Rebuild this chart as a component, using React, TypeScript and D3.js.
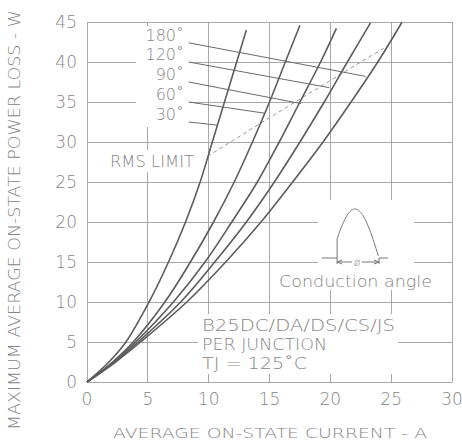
import React from 'react';
import * as d3 from 'd3';

// tick values
const xTicks = [0, 5, 10, 15, 20, 25, 30];
const yTicks = [0, 5, 10, 15, 20, 25, 30, 35, 40, 45];

const powerLevels = [0, 2.5, 5, 10, 15, 20, 25, 30, 35, 40];
const current30 = [0, 1.8, 3.2, 5.1, 6.7, 8.1, 9.3, 10.3, 11.3, 12.3];
const current60 = [0, 2.1, 3.8, 6.4, 8.5, 10.4, 12.1, 13.6, 15.0, 16.3];
const current90 = [0, 2.2, 4.0, 7.1, 9.7, 11.9, 14.0, 15.8, 17.5, 19.2];
const current120 = [0, 2.3, 4.2, 7.7, 10.5, 13.1, 15.4, 17.5, 19.5, 21.4];
const current180 = [0, 2.35, 4.4, 8.2, 11.4, 14.3, 16.9, 19.4, 21.7, 23.9];
const topCurrent = [13.1, 17.5, 20.5, 23.3, 25.9];
const topPower = [44.0, 44.6, 44.2, 44.9, 45.0];

// conduction angle labels and their leader lines (same order as curves)
const angleLabels = ['30˚', '60˚', '90˚', '120˚', '180˚'];
const leaderStartPower = [32.5, 35.0, 37.5, 40.0, 42.4];
const leaderEndCurrent = [10.75, 14.6, 17.6, 19.9, 22.9];
const leaderEndPower = [32.1, 33.6, 34.8, 36.8, 38.2];

// RMS limit (dashed)
const rmsCurrent = [9.9, 17.0, 24.8];
const rmsPower = [28.2, 34.9, 42.1];

const notes = ['B25DC/DA/DS/CS/JS', 'PER JUNCTION', 'TJ = 125˚C'];
const noteWidths = [193, 125, 105];

const W = 462, H = 442;
const FONT = '"DejaVu Sans", sans-serif';
const TEXT = '#858585';
const GRID = '#a8a8a8';
const CURVE = '#5c5c5c';

const App = () => {
  const x = d3.scaleLinear().domain([0, 30]).range([87, 452]);
  const y = d3.scaleLinear().domain([0, 45]).range([382, 22]);

  const curves = [current30, current60, current90, current120, current180].map((cur, i) => {
    const pts: [number, number][] = cur.map((c, j) => [c, powerLevels[j]]);
    pts.push([topCurrent[i], topPower[i]]);
    return pts;
  });

  const line = d3.line<[number, number]>()
    .x(d => x(d[0]))
    .y(d => y(d[1]))
    .curve(d3.curveCatmullRom.alpha(0.5));

  const rmsLine = d3.line<number>()
    .x((d, i) => x(rmsCurrent[i]))
    .y(d => y(d))
    .curve(d3.curveMonotoneX);

  const leaderX = x(8.36);

  // conduction angle sketch (icon)
  const x0 = 331, L = 48, base = 258, amp = 49;
  const phases = d3.range(0.4, Math.PI + 0.001, 0.05);
  const wave = d3.line<number>()
    .x(p => x0 + (p / Math.PI) * L)
    .y(p => base - Math.sin(p) * amp)(phases);
  const waveStartX = x0 + (0.4 / Math.PI) * L;

  return (
    <svg width={W} height={H} style={{ position: 'absolute', left: 0, top: 0, background: '#fff' }}
      fontFamily={FONT} fontWeight={200}>
      {/* grid */}
      <g stroke={GRID} strokeWidth={1} shapeRendering="crispEdges">
        {xTicks.map(t => (
          <line key={'vx' + t} x1={x(t)} x2={x(t)} y1={y(0)} y2={y(45)} />
        ))}
        {yTicks.map(t => (
          <line key={'hy' + t} x1={x(0)} x2={x(30)} y1={y(t)} y2={y(t)} />
        ))}
      </g>

      {/* gaps behind text blocks */}
      <g fill="#fff">
        <rect x={136} y={26} width={53} height={101} />
        <rect x={107} y={150} width={90} height={22} />
        <rect x={318} y={200} width={96} height={90} />
        <rect x={198} y={314} width={200} height={60} />
      </g>

      {/* RMS limit */}
      <path d={rmsLine(rmsPower) || ''} fill="none" stroke="#9a9a9a" strokeWidth={1} strokeDasharray="4,3" />

      {/* curves */}
      <g fill="none" stroke={CURVE} strokeWidth={1.6}>
        {curves.map((c, i) => <path key={i} d={line(c) || ''} />)}
      </g>

      {/* leaders */}
      <g stroke="#6a6a6a" strokeWidth={1}>
        {angleLabels.map((a, i) => (
          <line key={a} x1={leaderX} y1={y(leaderStartPower[i])}
            x2={x(leaderEndCurrent[i])} y2={y(leaderEndPower[i])} />
        ))}
      </g>
      <g fill={TEXT} fontSize={16}>
        {angleLabels.map((a, i) => (
          <text key={a} x={184} y={y(leaderStartPower[i]) - 2} textAnchor="end">{a}</text>
        ))}
      </g>

      <text x={110} y={167} fill={TEXT} fontSize={15} textLength={84} lengthAdjust="spacingAndGlyphs">RMS LIMIT</text>

      {/* conduction angle icon */}
      <g fill="none" stroke="#777" strokeWidth={1}>
        <path d={wave || ''} />
        <line x1={waveStartX} x2={waveStartX} y1={base - Math.sin(0.4) * amp} y2={264} />
        <line x1={322} x2={waveStartX} y1={base} y2={base} />
        <line x1={x0 + L} x2={388} y1={base} y2={base} />
        <line x1={x0 + L} x2={x0 + L} y1={base} y2={264} />
        <line x1={waveStartX} x2={352} y1={262} y2={262} />
        <line x1={362} x2={x0 + L} y1={262} y2={262} />
        <path d={`M${waveStartX + 5},260L${waveStartX},262L${waveStartX + 5},264`} />
        <path d={`M${x0 + L - 5},260L${x0 + L},262L${x0 + L - 5},264`} />
      </g>
      <text x={357} y={266} fill={TEXT} fontSize={11} textAnchor="middle">ø</text>
      <text x={279} y={287} fill={TEXT} fontSize={16} textLength={153} lengthAdjust="spacingAndGlyphs">Conduction angle</text>

      {/* notes */}
      <g fill={TEXT} fontSize={16}>
        {notes.map((n, i) => (
          <text key={n} x={202} y={331 + i * 19}
            textLength={noteWidths[i]} lengthAdjust="spacingAndGlyphs">{n}</text>
        ))}
      </g>

      {/* tick labels */}
      <g fill={TEXT} fontSize={17}>
        {yTicks.map(t => (
          <text key={'yl' + t} x={77} y={y(t)} dy="0.36em" textAnchor="end">{t}</text>
        ))}
        {xTicks.map(t => (
          <text key={'xl' + t} x={x(t)} y={399} dy="0.36em" textAnchor="middle">{t}</text>
        ))}
      </g>

      {/* axis titles */}
      <text x={270} y={438} fill={TEXT} fontSize={14} textAnchor="middle"
        textLength={314} lengthAdjust="spacingAndGlyphs">AVERAGE ON-STATE CURRENT - A</text>
      <text transform="translate(20,220) rotate(-90)" fill={TEXT} fontSize={15} textAnchor="middle"
        textLength={420} lengthAdjust="spacingAndGlyphs">MAXIMUM AVERAGE ON-STATE POWER LOSS - W</text>
    </svg>
  );
};

export default App;
